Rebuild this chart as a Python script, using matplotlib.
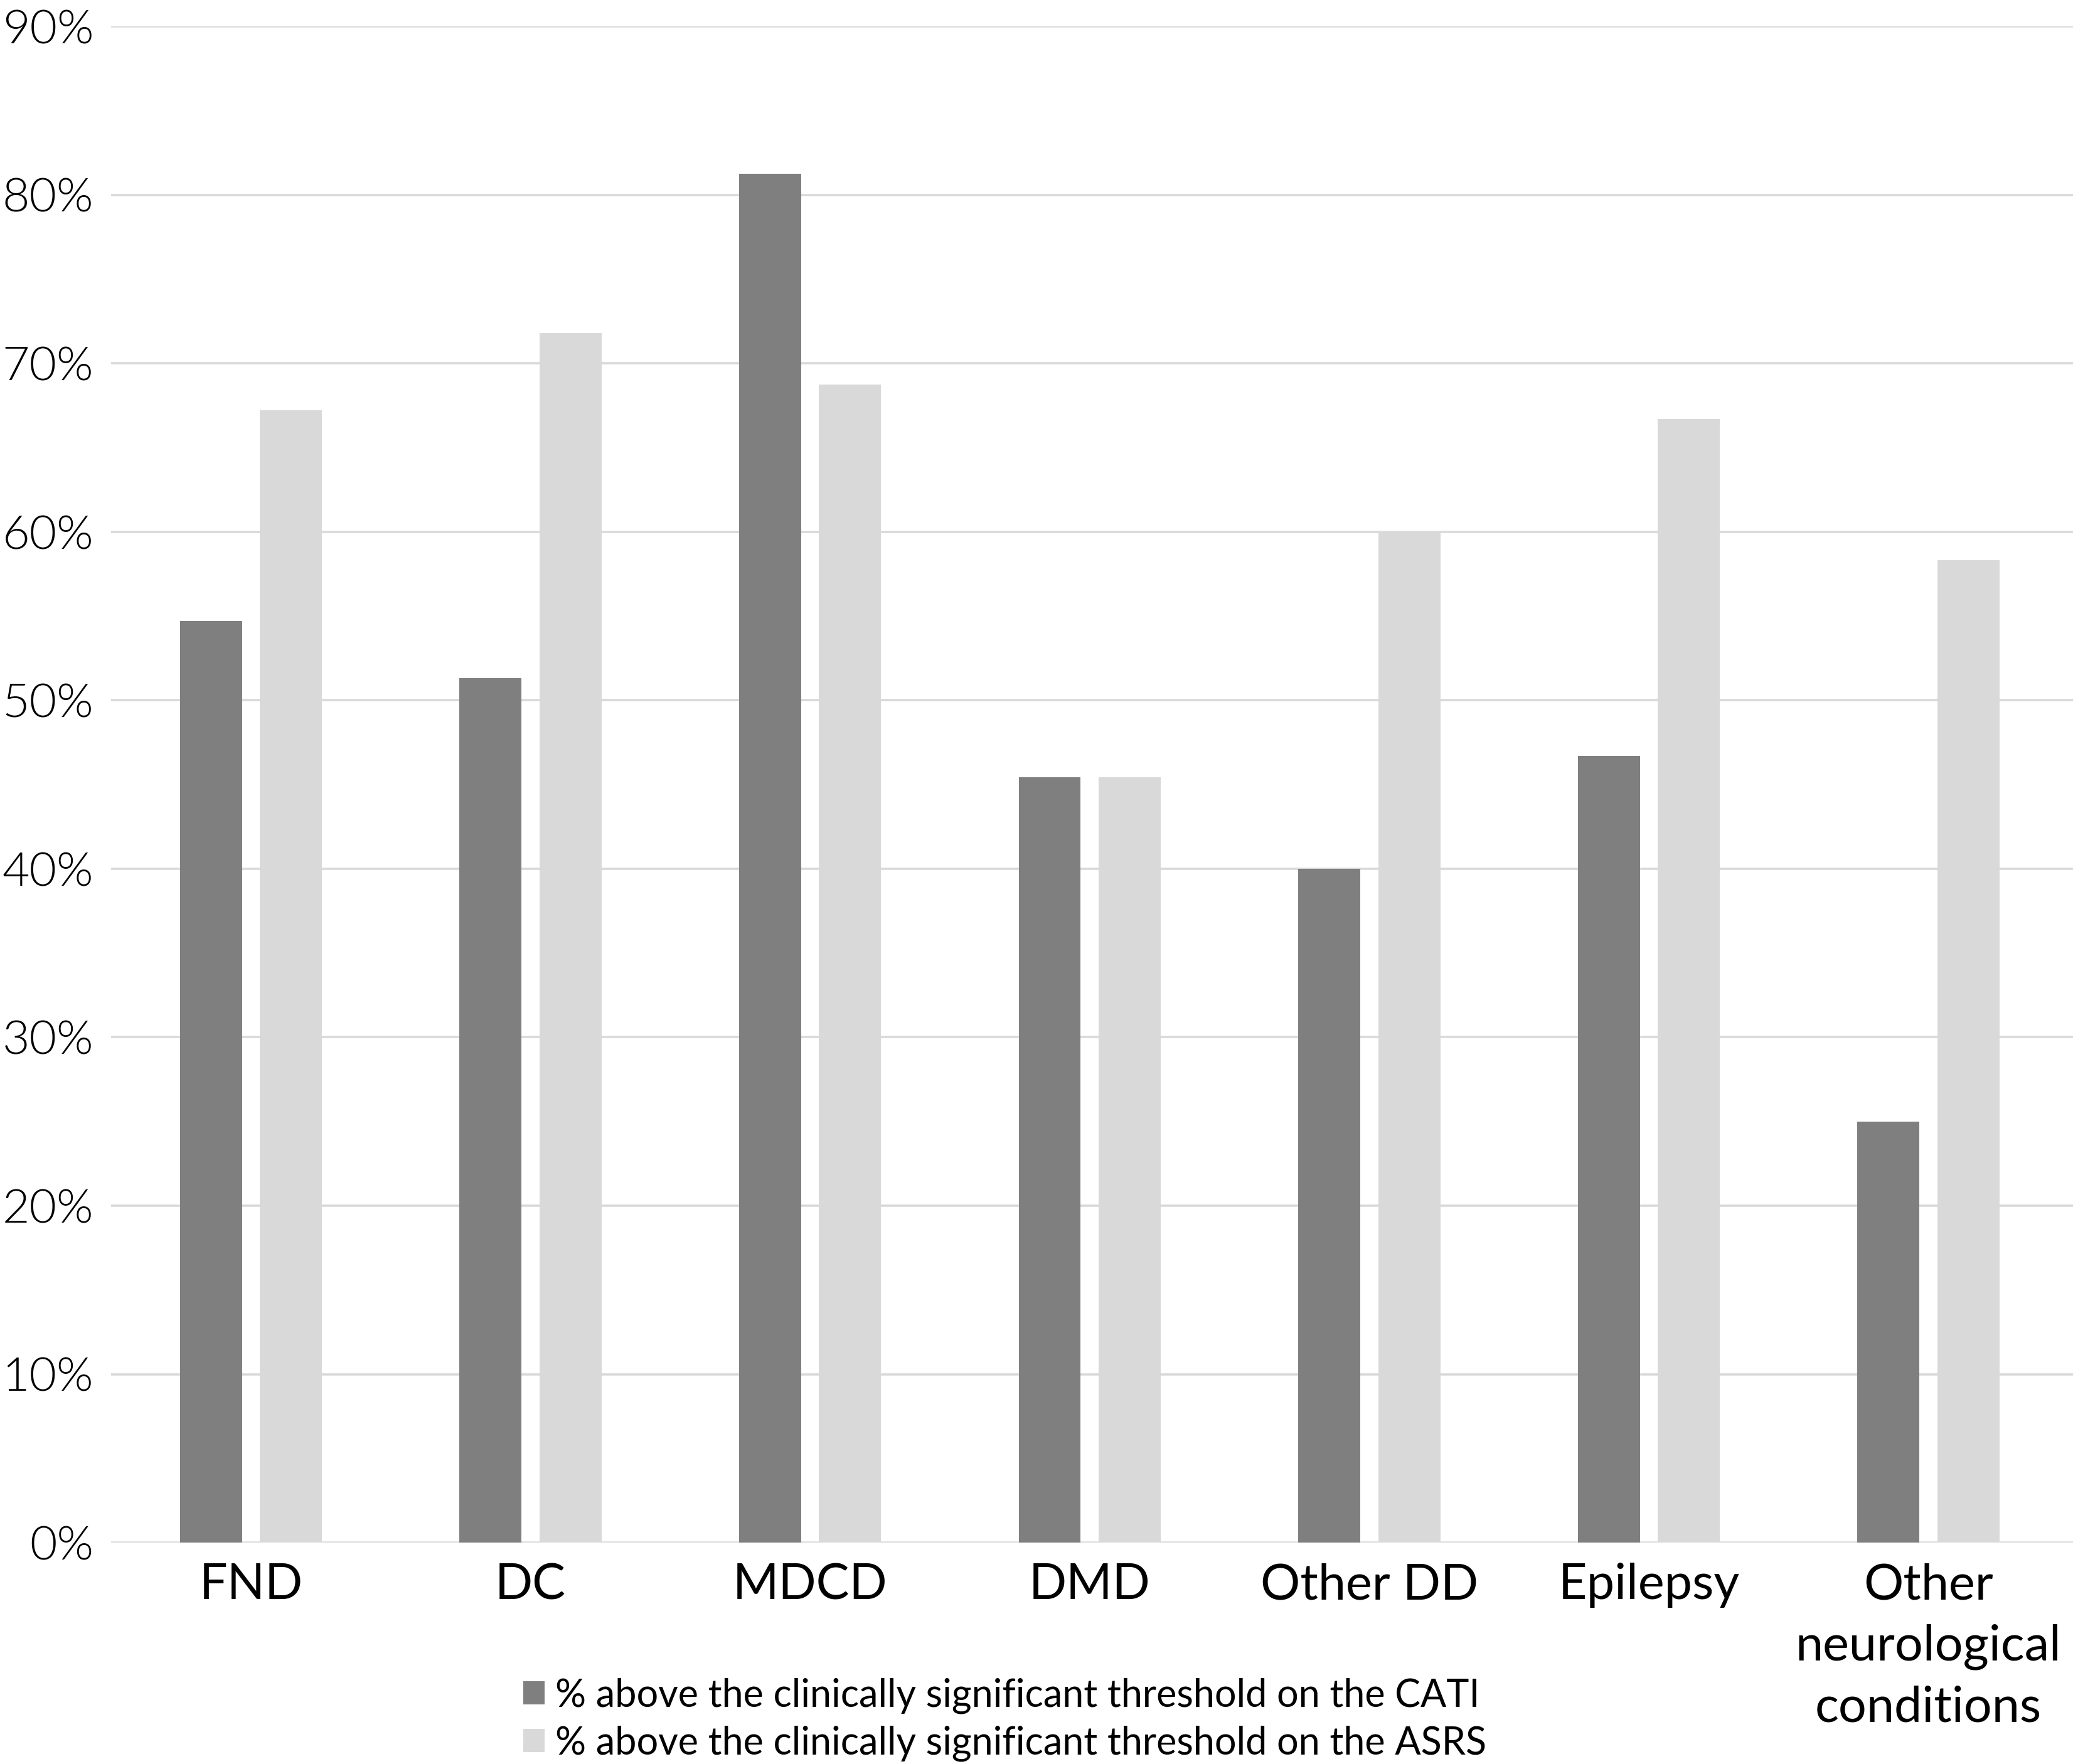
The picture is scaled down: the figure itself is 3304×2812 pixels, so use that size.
import matplotlib
matplotlib.use("Agg")
import matplotlib.pyplot as plt
from matplotlib import font_manager
from matplotlib.patches import Patch
import numpy as np

categories = ["FND", "DC", "MDCD", "DMD", "Other DD", "Epilepsy",
              "Other\nneurological\nconditions"]
cati = [54.7, 51.3, 81.25, 45.45, 40.0, 46.7, 25.0]
asrs = [67.2, 71.8, 68.75, 45.45, 60.0, 66.7, 58.3]
series_names = ["% above the clinically significant threshold on the CATI",
                "% above the clinically significant threshold on the ASRS"]
yticks = list(range(0, 100, 10))

names = {f.name for f in font_manager.fontManager.ttflist}


def pick(*cands):
    for c in cands:
        if c in names:
            return c
    return "DejaVu Sans"


main_font = pick("Lato", "Open Sans", "Liberation Sans")
plt.rcParams["font.family"] = [main_font, "DejaVu Sans"]

dark = "#7f7f7f"
light = "#d9d9d9"

fig = plt.figure(figsize=(33.04, 28.12), dpi=100)
# plot area: left edge of gridlines to right edge of picture
ax = fig.add_axes([0.0536, 0.1255, 0.9464, 0.8595])

x = np.arange(len(categories))
w = 0.222
off = 0.143
ax.bar(x - off, cati, width=w, color=dark, zorder=3)
ax.bar(x + off, asrs, width=w, color=light, zorder=3)

ax.set_xlim(-0.5, 6.517)
ax.set_ylim(0, 90)
ax.set_yticks(yticks)
ax.set_yticklabels([f"{v}%" for v in yticks], fontsize=54, fontweight=300)
ax.set_xticks(x)
ax.set_xticklabels(categories, fontsize=57, linespacing=1.43)
ax.tick_params(axis="both", length=0)
ax.tick_params(axis="y", pad=20)
ax.tick_params(axis="x", pad=23)
ax.grid(axis="y", color=light, linewidth=2.6, zorder=0)
ax.set_axisbelow(True)
for s in ax.spines.values():
    s.set_visible(False)

handles = [Patch(facecolor=dark), Patch(facecolor=light)]
fig.legend(handles, series_names, loc="upper left",
           bbox_to_anchor=(0.2524, 0.049), frameon=False,
           borderpad=0, borderaxespad=0, handlelength=0.55,
           handleheight=0.55, handletextpad=0.28, labelspacing=0.3,
           prop={"size": 44})

fig.savefig("out.png", dpi=100)
